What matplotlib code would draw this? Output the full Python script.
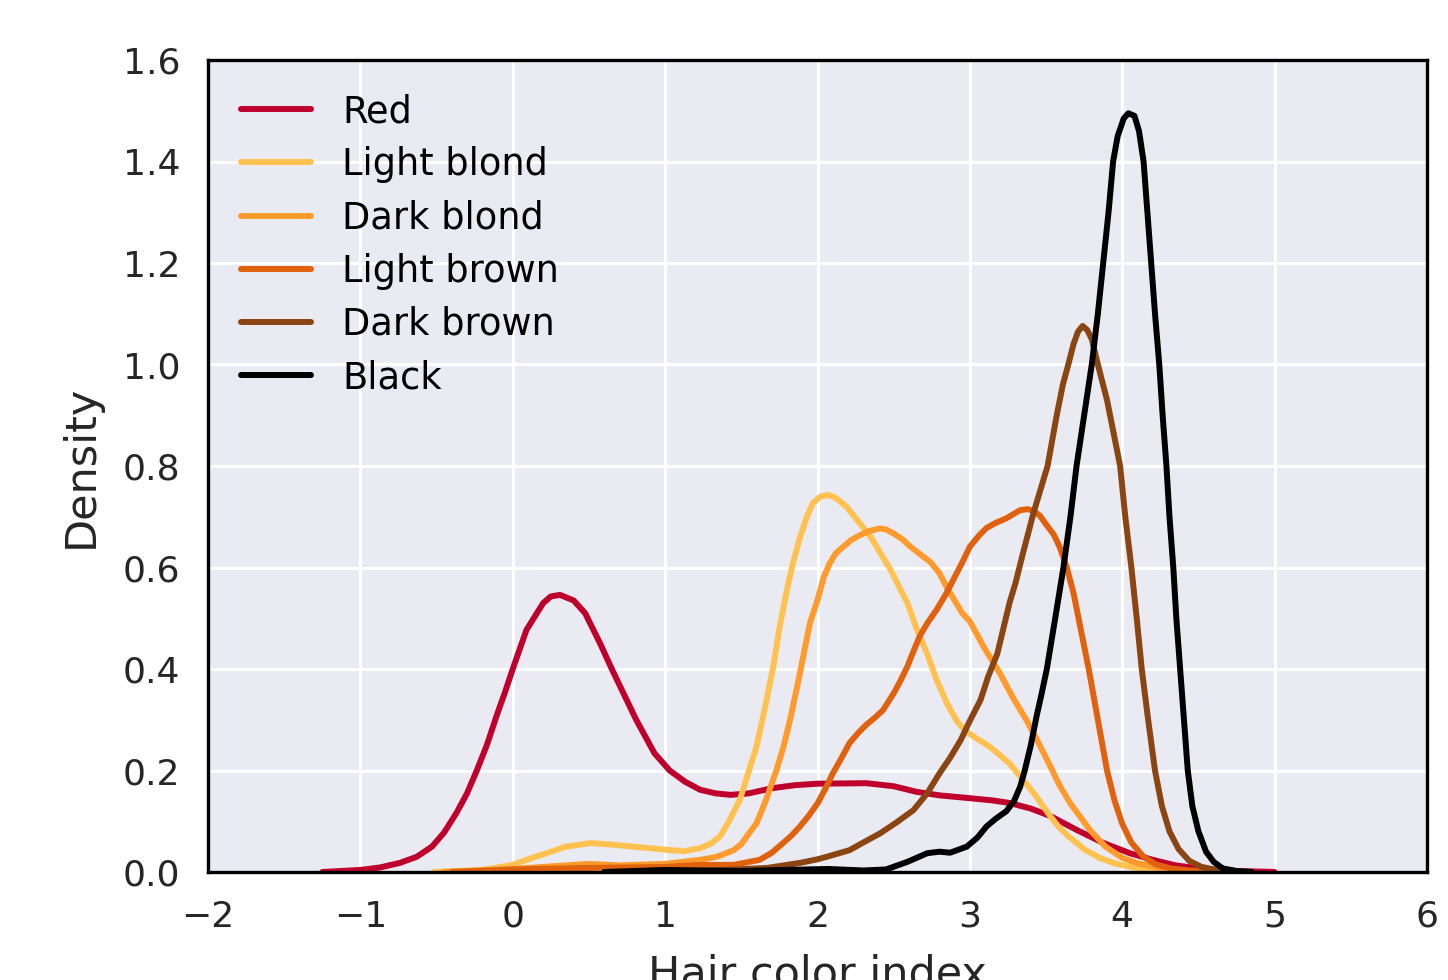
import matplotlib
matplotlib.use("Agg")
import matplotlib.pyplot as plt

# values (x = hair color index, y = density)
red_x = [-1.25, -1.0, -0.87, -0.74, -0.63, -0.53, -0.45, -0.37, -0.3, -0.236, -0.17, -0.1,
         -0.05, 0.0, 0.09, 0.2, 0.25, 0.31, 0.4, 0.475, 0.574, 0.65, 0.73, 0.81, 0.93, 1.03,
         1.13, 1.23, 1.33, 1.43, 1.55, 1.7, 1.85, 2.0, 2.32, 2.5, 2.65, 2.8, 2.98, 3.15, 3.26,
         3.4, 3.53, 3.7, 3.87, 4.05, 4.2, 4.35, 4.53, 4.75, 5.0]
red_y = [0.0, 0.004, 0.009, 0.018, 0.03, 0.05, 0.078, 0.116, 0.155, 0.2, 0.25, 0.313,
         0.355, 0.40, 0.477, 0.53, 0.543, 0.546, 0.535, 0.51, 0.45, 0.40, 0.35, 0.30, 0.234, 0.2,
         0.178, 0.162, 0.155, 0.152, 0.155, 0.165, 0.171, 0.174, 0.175, 0.169, 0.158, 0.151,
         0.146, 0.141, 0.136, 0.125, 0.11, 0.083, 0.058, 0.037, 0.024, 0.013, 0.006, 0.002, 0.0]

lblond_x = [-0.52, -0.2, 0.0, 0.1, 0.2, 0.28, 0.35, 0.51, 0.65, 0.79, 0.9, 1.0, 1.12, 1.23,
            1.3, 1.36, 1.42, 1.49, 1.54, 1.6, 1.66, 1.71, 1.75, 1.80, 1.84, 1.886, 1.93, 1.97,
            2.02, 2.07, 2.12, 2.19, 2.27, 2.35, 2.42, 2.48, 2.59, 2.65, 2.72, 2.78, 2.85, 2.92,
            2.98, 3.05, 3.13, 3.19, 3.26, 3.34, 3.42, 3.48, 3.53, 3.58, 3.64, 3.75, 3.85, 3.95,
            4.07, 4.2, 4.35]
lblond_y = [0.0, 0.004, 0.014, 0.025, 0.035, 0.043, 0.05, 0.057, 0.054, 0.05, 0.047, 0.044,
            0.041, 0.047, 0.056, 0.07, 0.1, 0.142, 0.19, 0.247, 0.33, 0.405, 0.48, 0.556, 0.61,
            0.66, 0.70, 0.727, 0.74, 0.743, 0.737, 0.72, 0.69, 0.66, 0.625, 0.595, 0.53, 0.48,
            0.43, 0.38, 0.332, 0.295, 0.276, 0.262, 0.247, 0.232, 0.214, 0.185, 0.155, 0.13,
            0.109, 0.09, 0.072, 0.045, 0.028, 0.017, 0.009, 0.003, 0.0]

dblond_x = [-0.45, 0.0, 0.3, 0.5, 0.7, 1.0, 1.23, 1.34, 1.45, 1.5, 1.56, 1.60, 1.66, 1.73,
            1.78, 1.82, 1.87, 1.91, 1.95, 2.0, 2.04, 2.08, 2.12, 2.17, 2.22, 2.28, 2.34, 2.41,
            2.45, 2.50, 2.56, 2.61, 2.67, 2.74, 2.80, 2.85, 2.91, 2.95, 3.0, 3.09, 3.2, 3.28,
            3.37, 3.45, 3.53, 3.59, 3.66, 3.79, 3.89, 4.0, 4.1, 4.23, 4.35, 4.5]
dblond_y = [0.0, 0.006, 0.012, 0.016, 0.013, 0.016, 0.024, 0.03, 0.043, 0.055, 0.08, 0.096,
            0.14, 0.2, 0.25, 0.3, 0.37, 0.43, 0.49, 0.536, 0.58, 0.608, 0.628, 0.641, 0.654,
            0.664, 0.672, 0.677, 0.675, 0.667, 0.655, 0.641, 0.627, 0.611, 0.589, 0.56, 0.53,
            0.51, 0.494, 0.444, 0.39, 0.345, 0.3, 0.255, 0.207, 0.17, 0.135, 0.082, 0.05, 0.028,
            0.017, 0.009, 0.004, 0.0]

lbrown_x = [-0.4, 0.0, 0.5, 1.0, 1.23, 1.45, 1.62, 1.7, 1.77, 1.83, 1.886, 1.94, 2.0, 2.05,
            2.10, 2.16, 2.21, 2.27, 2.32, 2.38, 2.43, 2.46, 2.50, 2.55, 2.59, 2.63, 2.67, 2.72,
            2.78, 2.84, 2.89, 2.95, 3.0, 3.06, 3.11, 3.17, 3.24, 3.29, 3.33, 3.38, 3.42, 3.46,
            3.5, 3.55, 3.59, 3.636, 3.68, 3.72, 3.78, 3.84, 3.9, 3.95, 4.0, 4.06, 4.14, 4.22,
            4.32, 4.44, 4.6]
lbrown_y = [0.0, 0.005, 0.008, 0.01, 0.014, 0.014, 0.024, 0.038, 0.056, 0.072, 0.09, 0.11,
            0.135, 0.163, 0.194, 0.226, 0.254, 0.275, 0.29, 0.305, 0.319, 0.333, 0.352, 0.38,
            0.405, 0.435, 0.464, 0.49, 0.516, 0.546, 0.575, 0.61, 0.641, 0.663, 0.678, 0.688,
            0.697, 0.706, 0.713, 0.715, 0.711, 0.702, 0.685, 0.665, 0.64, 0.6, 0.55, 0.49, 0.4,
            0.3, 0.2, 0.14, 0.095, 0.058, 0.03, 0.015, 0.007, 0.003, 0.0]

dbrown_x = [0.8, 1.3, 1.67, 1.886, 2.0, 2.06, 2.13, 2.21, 2.3, 2.41, 2.52, 2.63, 2.72, 2.80,
            2.87, 2.94, 3.0, 3.07, 3.12, 3.18, 3.22, 3.26, 3.30, 3.35, 3.42, 3.47, 3.51, 3.57,
            3.61, 3.646, 3.68, 3.71, 3.74, 3.77, 3.80, 3.84, 3.90, 3.94, 3.986, 4.02, 4.06,
            4.095, 4.128, 4.17, 4.215, 4.26, 4.31, 4.37, 4.44, 4.52, 4.62, 4.8]
dbrown_y = [0.0, 0.003, 0.008, 0.018, 0.025, 0.03, 0.036, 0.043, 0.058, 0.076, 0.098, 0.122,
            0.155, 0.194, 0.225, 0.26, 0.298, 0.339, 0.385, 0.43, 0.48, 0.53, 0.57, 0.63, 0.71,
            0.76, 0.8, 0.9, 0.96, 1.0, 1.04, 1.065, 1.076, 1.068, 1.05, 1.0, 0.93, 0.87, 0.8,
            0.7, 0.6, 0.5, 0.4, 0.3, 0.2, 0.13, 0.08, 0.045, 0.022, 0.01, 0.004, 0.0]

black_x = [0.6, 1.0, 1.5, 2.07, 2.3, 2.45, 2.59, 2.72, 2.8, 2.87, 2.98, 3.05, 3.11, 3.17,
           3.24, 3.29, 3.33, 3.36, 3.40, 3.44, 3.47, 3.505, 3.56, 3.614, 3.66, 3.70, 3.75, 3.80,
           3.84, 3.875, 3.91, 3.94, 3.97, 4.01, 4.04, 4.08, 4.11, 4.14, 4.165, 4.19, 4.215,
           4.243, 4.265, 4.29, 4.31, 4.335, 4.355, 4.38, 4.405, 4.43, 4.46, 4.5, 4.55, 4.6,
           4.66, 4.75, 4.85]
black_y = [0.0, 0.004, 0.002, 0.006, 0.003, 0.005, 0.02, 0.037, 0.04, 0.038, 0.05, 0.068,
           0.09, 0.105, 0.12, 0.14, 0.168, 0.2, 0.25, 0.31, 0.35, 0.4, 0.5, 0.6, 0.7, 0.8, 0.9,
           1.0, 1.1, 1.2, 1.3, 1.4, 1.45, 1.485, 1.495, 1.49, 1.46, 1.4, 1.3, 1.2, 1.1, 1.0,
           0.9, 0.8, 0.7, 0.6, 0.5, 0.4, 0.3, 0.2, 0.13, 0.08, 0.04, 0.02, 0.007, 0.002, 0.0]

series = [
    ("Red", red_x, red_y, "#C0002C"),
    ("Light blond", lblond_x, lblond_y, "#FFC250"),
    ("Dark blond", dblond_x, dblond_y, "#FF9A2C"),
    ("Light brown", lbrown_x, lbrown_y, "#E0620F"),
    ("Dark brown", dbrown_x, dbrown_y, "#8B4513"),
    ("Black", black_x, black_y, "#000000"),
]

plt.rcParams['font.family'] = ['DejaVu Sans']
fig = plt.figure(figsize=(14.48, 9.8), dpi=100)
ax = fig.add_axes([208 / 1448, 1 - 872 / 980, (1427 - 208) / 1448, (872 - 60) / 980])
ax.set_facecolor("#EAEAF2")

for name, xs, ys, col in series:
    ax.plot(xs, ys, color=col, lw=4.3, label=name,
            solid_capstyle="round", solid_joinstyle="round")

ax.set_xlim(-2, 6)
ax.set_ylim(0, 1.6)
ax.set_yticks([0.0, 0.2, 0.4, 0.6, 0.8, 1.0, 1.2, 1.4, 1.6])
ax.grid(True, color="white", lw=2.2)
ax.set_axisbelow(True)
for s in ax.spines.values():
    s.set_color("black")
    s.set_linewidth(2.4)
ax.tick_params(length=0, labelsize=26, labelcolor="#262626", pad=20)
ax.set_xlabel("Hair color index", fontsize=31, color="#262626", labelpad=14)
ax.set_ylabel("Density", fontsize=31, color="#262626", labelpad=15)

ax.legend(loc="upper left", frameon=False, fontsize=26.5, handlelength=1.9,
          handletextpad=0.85, labelspacing=0.44)

fig.savefig("out.png", dpi=100)
